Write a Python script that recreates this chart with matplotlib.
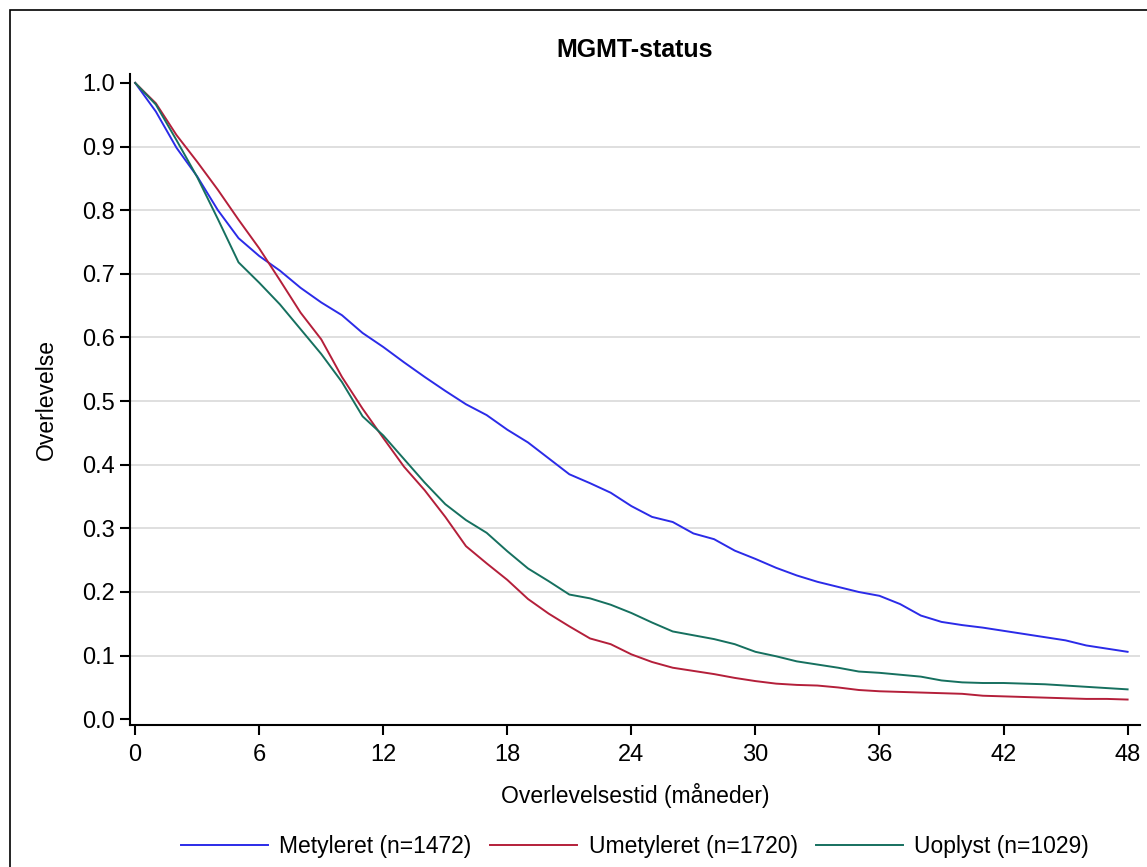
import numpy as np
import matplotlib.pyplot as plt
from matplotlib.patches import Rectangle

plt.rcParams['font.family'] = ['Liberation Sans', 'DejaVu Sans']

# ----- data (survival at each month) -----
maaneder = np.arange(0, 49)

metyleret = [1.0, 0.955, 0.898, 0.853, 0.800, 0.756, 0.728, 0.705, 0.678, 0.655,
             0.635, 0.607, 0.585, 0.561, 0.538, 0.516, 0.495, 0.478, 0.455, 0.435,
             0.410, 0.385, 0.371, 0.356, 0.335, 0.318, 0.310, 0.292, 0.283, 0.265,
             0.252, 0.238, 0.226, 0.216, 0.208, 0.200, 0.194, 0.181, 0.163, 0.153,
             0.148, 0.144, 0.139, 0.134, 0.129, 0.124, 0.116, 0.111, 0.106]

umetyleret = [1.0, 0.968, 0.918, 0.876, 0.832, 0.785, 0.740, 0.690, 0.639, 0.597,
              0.538, 0.488, 0.442, 0.397, 0.360, 0.318, 0.272, 0.245, 0.219, 0.189,
              0.166, 0.146, 0.127, 0.118, 0.102, 0.090, 0.081, 0.076, 0.071, 0.065,
              0.060, 0.056, 0.054, 0.053, 0.050, 0.046, 0.044, 0.043, 0.042, 0.041,
              0.040, 0.037, 0.036, 0.035, 0.034, 0.033, 0.032, 0.032, 0.031]

uoplyst = [1.0, 0.966, 0.910, 0.852, 0.786, 0.718, 0.686, 0.652, 0.613, 0.574,
           0.530, 0.476, 0.446, 0.409, 0.372, 0.338, 0.313, 0.293, 0.264, 0.237,
           0.217, 0.196, 0.190, 0.180, 0.167, 0.152, 0.138, 0.132, 0.126, 0.118,
           0.106, 0.099, 0.091, 0.086, 0.081, 0.075, 0.073, 0.070, 0.067, 0.061,
           0.058, 0.057, 0.057, 0.056, 0.055, 0.053, 0.051, 0.049, 0.047]

labels = ["Metyleret (n=1472)", "Umetyleret (n=1720)", "Uoplyst (n=1029)"]
farger = ["#2b2be8", "#b41f3a", "#16705f"]

x_ticks = [0, 6, 12, 18, 24, 30, 36, 42, 48]
y_ticks = np.round(np.arange(0, 1.01, 0.1), 1)

# ----- figure -----
fig = plt.figure(figsize=(11.47, 8.67), dpi=100)
fig.patches.append(Rectangle((10 / 1147, -0.01), 1.05, 1 - 10 / 867 + 0.01,
                             transform=fig.transFigure, fill=False,
                             edgecolor='black', linewidth=1.2))

ax = fig.add_axes([130 / 1147, 1 - 725 / 867, 1010 / 1147, 651 / 867])

for y in y_ticks[1:-1]:
    ax.axhline(y, color='#dcdcdc', linewidth=1.3, zorder=0)

for serie, lab, c in zip([metyleret, umetyleret, uoplyst], labels, farger):
    ax.plot(maaneder, serie, color=c, linewidth=1.4, label=lab)

ax.set_xlim(-0.25, 48.6)
ax.set_ylim(-0.009, 1.014)
ax.set_xticks(x_ticks)
ax.set_yticks(y_ticks)
ax.set_yticklabels([f"{v:.1f}" for v in y_ticks])

for s in ['top', 'right']:
    ax.spines[s].set_visible(False)
for s in ['left', 'bottom']:
    ax.spines[s].set_linewidth(1.5)
ax.tick_params(axis='both', labelsize=17, width=1.5, length=7)
ax.tick_params(axis='x', pad=7)
ax.tick_params(axis='y', pad=4)

ax.set_title("MGMT-status", fontsize=18, fontweight='bold', pad=12)
ax.set_ylabel("Overlevelse", fontsize=16.5, labelpad=17)
ax.set_xlabel("Overlevelsestid (måneder)", fontsize=16.5, labelpad=12)

ax.legend(loc='upper center', bbox_to_anchor=(0.5, -0.137), ncol=3,
          frameon=False, fontsize=16.5, handlelength=3.8, handletextpad=0.5,
          columnspacing=0.8)

fig.savefig("out.png", dpi=100)
